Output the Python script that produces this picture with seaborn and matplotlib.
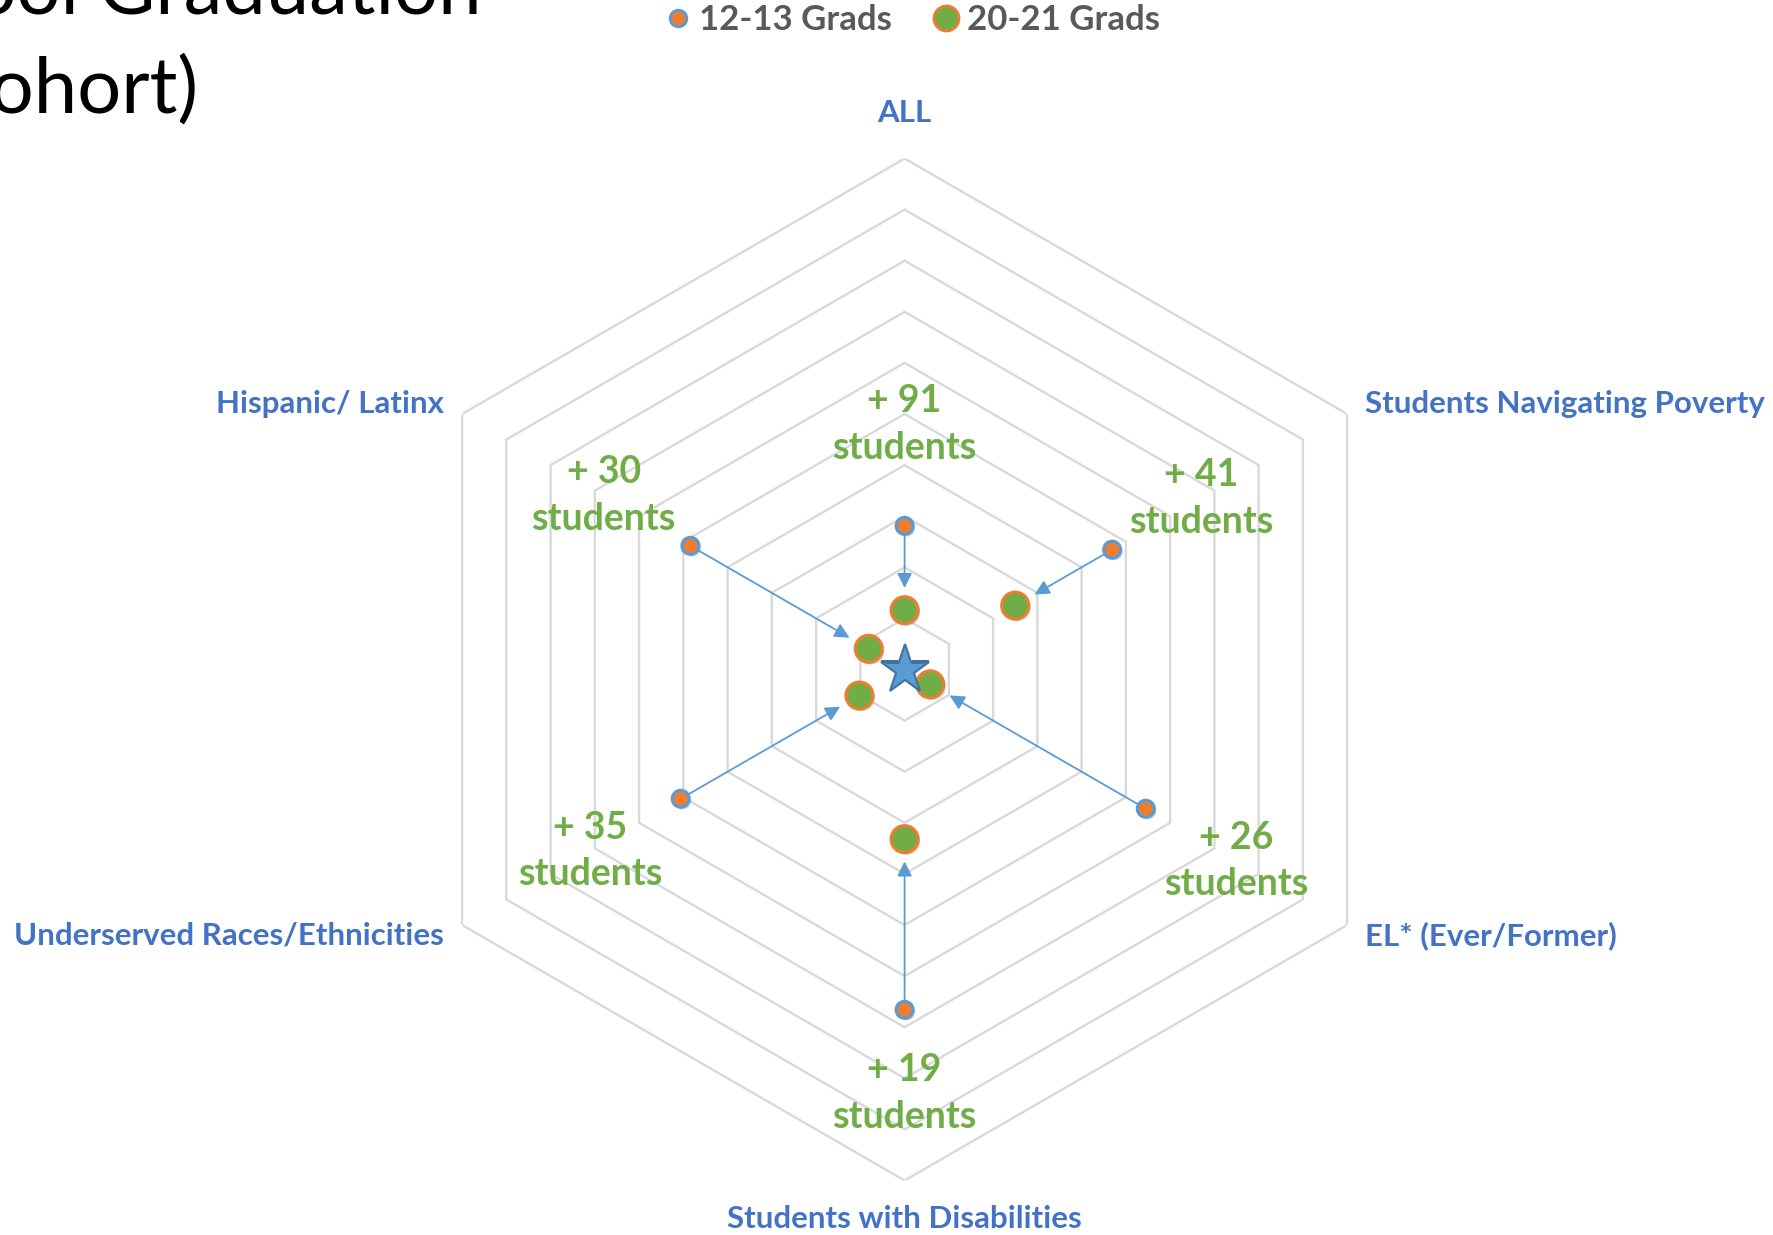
import numpy as np
import pandas as pd
import matplotlib
matplotlib.use("Agg")
import matplotlib.pyplot as plt
import matplotlib.patheffects as pe
from matplotlib.lines import Line2D
import seaborn as sns

# ---- data -------------------------------------------------------------
categories = ["ALL", "Students Navigating Poverty", "EL* (Ever/Former)",
              "Students with Disabilities", "Underserved Races/Ethnicities",
              "Hispanic/ Latinx"]
grads_12_13 = [28.1, 46.9, 54.5, 66.6, 50.6, 48.4]
grads_20_21 = [11.6, 25.0, 5.8, 33.2, 10.2, 8.1]
added_students = [91, 41, 26, 19, 35, 30]
series_names = ["12-13 Grads", "20-21 Grads"]

# ---- styling ----------------------------------------------------------
sns.set_theme(style="white")
plt.rcParams["font.family"] = ["Lato", "DejaVu Sans"]

BLUE_TXT = "#4472C4"
GREEN = "#70AD47"
ORANGE = "#ED7D31"
LBLUE = "#5B9BD5"
GRID = "#D9D9D9"

W, H = 1773, 1235
fig = plt.figure(figsize=(W / 100, H / 100), dpi=100)

cx, cy, rad = 904.6, 669.5, 511.0
ax = fig.add_axes([(cx - rad) / W, (H - cy - rad) / H, 2 * rad / W, 2 * rad / H],
                  projection="polar")
ax.set_theta_zero_location("N")
ax.set_theta_direction(-1)
ax.set_ylim(0, 100)
ax.grid(False)
ax.set_xticks([])
ax.set_yticks([])
ax.spines["polar"].set_visible(False)
ax.set_facecolor("none")

n = len(categories)
angles = np.linspace(0, 2 * np.pi, n, endpoint=False)
closed = np.append(angles, angles[0])

# hexagonal rings
for level in np.arange(10, 101, 10):
    ax.plot(closed, [level] * (n + 1), color=GRID, lw=1.7, zorder=1)

df = pd.DataFrame({
    "category": categories * 2,
    "theta": np.concatenate([angles, angles]),
    "value": grads_12_13 + grads_20_21,
    "series": [series_names[0]] * n + [series_names[1]] * n,
})

# arrows from old to new values
for th, r0, r1 in zip(angles, grads_12_13, grads_20_21):
    ax.annotate("", xy=(th, r1), xytext=(th, r0),
                arrowprops=dict(arrowstyle="-|>", color=LBLUE, lw=1.3,
                                shrinkA=0, shrinkB=16, mutation_scale=22),
                zorder=2)

shadow = [pe.SimplePatchShadow(offset=(1.5, -1.5), shadow_rgbFace="#7f7f7f", alpha=0.35),
          pe.Normal()]

old = df[df["series"] == series_names[0]]
new = df[df["series"] == series_names[1]]
sns.scatterplot(data=old, x="theta", y="value", ax=ax, s=150, color=ORANGE,
                edgecolor=LBLUE, linewidth=2.2, zorder=4, legend=False,
                path_effects=shadow)
sns.scatterplot(data=new, x="theta", y="value", ax=ax, s=380, color=GREEN,
                edgecolor=ORANGE, linewidth=2.2, zorder=4, legend=False,
                path_effects=shadow)

# goal star at the centre
ax.plot([0], [0], marker="*", ms=37, color=LBLUE, markeredgecolor="#41719C",
        markeredgewidth=1.5, zorder=5)

# category labels
label_r = [109, 104, 104, 107.5, 104, 104]
label_ha = ["center", "left", "left", "center", "right", "right"]
for th, name, r, ha in zip(angles, categories, label_r, label_ha):
    ax.text(th, r, name, ha=ha, va="center", color=BLUE_TXT,
            fontsize=22.5, fontweight="bold", zorder=6)

# change annotations
note_r = [48, 67, 75, 83, 71, 68]
for th, k, r in zip(angles, added_students, note_r):
    ax.text(th, r, f"+ {k}\nstudents", ha="center", va="center",
            color=GREEN, fontsize=27, fontweight="bold",
            linespacing=1.45, zorder=6)

# legend
handles = [
    Line2D([], [], ls="", marker="o", ms=12, mfc=ORANGE, mec=LBLUE, mew=2),
    Line2D([], [], ls="", marker="o", ms=18, mfc=GREEN, mec=ORANGE, mew=2),
]
leg = fig.legend(handles, series_names, loc="center", bbox_to_anchor=(0.514, 0.984),
                 ncol=2, frameon=False, handletextpad=0.15, columnspacing=1.1,
                 handlelength=0.9,
                 prop=dict(family="Lato", weight="bold", size=25))
for t in leg.get_texts():
    t.set_color("#595959")

# slide title (clipped at the figure edge)
fig.text(482 / W, 1 - 14 / H, "High School Graduation", ha="right", va="baseline",
         fontsize=56, color="black")
fig.text(199 / W, 1 - 113 / H, "(Cohort)", ha="right", va="baseline",
         fontsize=56, color="black")

fig.savefig("out.png", dpi=100, facecolor="white")
